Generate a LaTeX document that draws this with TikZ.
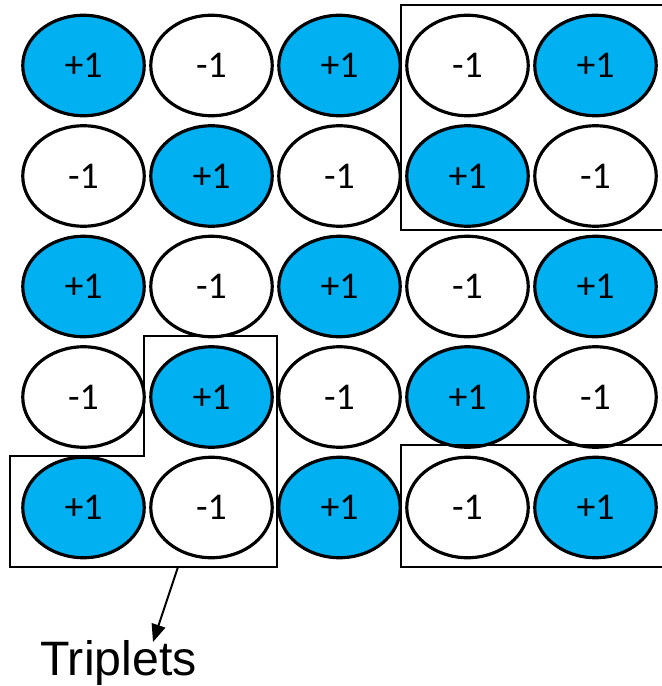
\documentclass[tikz,border=0pt]{standalone}
\usepackage{fontspec}
\setmainfont{Carlito}
\newfontfamily\arialfont{Liberation Sans}
\usepackage{xcolor}
\usepackage{tikz}
\usetikzlibrary{arrows.meta}
\usetikzlibrary{shapes.geometric}

\definecolor{spinblue}{RGB}{0,176,240}

\begin{document}
\begin{tikzpicture}[
      x=0.02cm, y=-0.02cm,
      spin/.style={draw,ellipse,line width=1.8pt,inner sep=0pt,
                   minimum width=2.43cm,minimum height=2.01cm,
                   font=\fontsize{21.5}{26}\selectfont},
      up/.style={spin,fill=spinblue},
      down/.style={spin,fill=white},
      group/.style={draw,line width=1.3pt},
      pointer/.style={-{Triangle[length=10pt,width=8pt]},line width=1.1pt}
    ]
    \clip (0,0) rectangle (662,686);

    % Spin lattice, +1 where row+column is even
    \foreach \r in {1,...,5}{
      \foreach \c in {1,...,5}{
        \pgfmathtruncatemacro{\parity}{mod(\r+\c,2)}
        \ifnum\parity=0
          \node[up] (s-\r-\c) at ({83.5+128*(\c-1)},{65.5+110.5*(\r-1)}) {+1};
        \else
          \node[down] (s-\r-\c) at ({83.5+128*(\c-1)},{65.5+110.5*(\r-1)}) {-1};
        \fi
      }
    }

    % Triplet groups
    \draw[group] (401,5) rectangle (675,230);
    \draw[group] (401,445) rectangle (675,567);
    \draw[group] (10,456) -- (144,456) -- (144,336) -- (277,336)
                 -- (277,567) -- (10,567) -- cycle;

    % Label and pointer
    \node[font=\arialfont\fontsize{27.5}{32}\selectfont,anchor=base,inner sep=0pt]
          (triplets) at (118.5,675) {Triplets};
    \coordinate (tail) at (178,567);
    \coordinate (head) at (153,642);
    \draw[pointer] (tail) -- (head);

  \end{tikzpicture}
\end{document}
